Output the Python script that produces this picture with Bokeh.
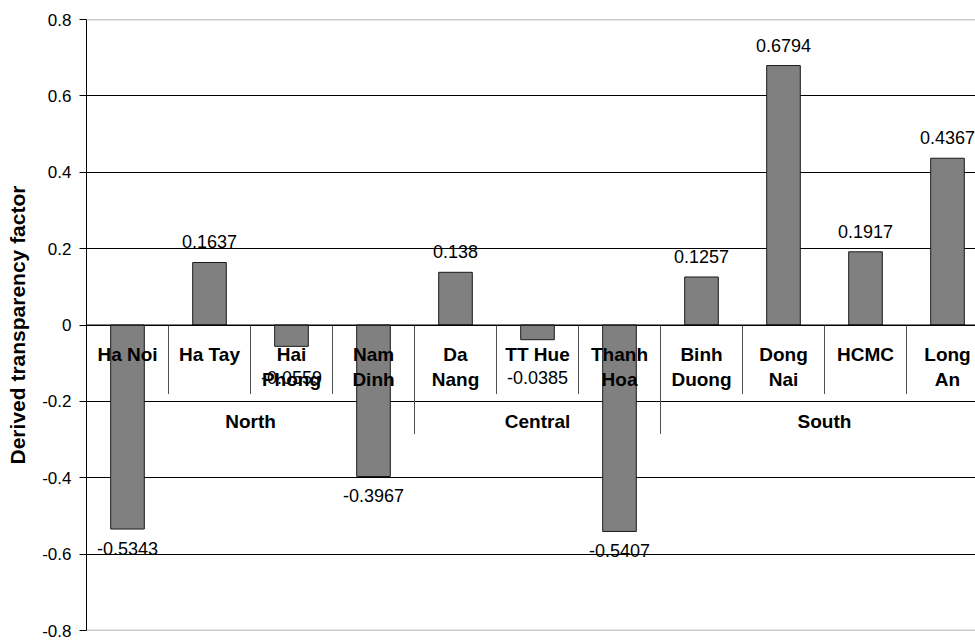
from bokeh.plotting import figure
from bokeh.models import ColumnDataSource, Range1d, FixedTicker, Span, CustomJSTickFormatter
from bokeh.core.properties import value
from bokeh.embed import file_html
from bokeh.resources import INLINE

# Provinces (a "\n" marks where the axis label wraps) and their region
categories = ["Ha Noi", "Ha Tay", "Hai\nPhong", "Nam\nDinh",
              "Da\nNang", "TT Hue", "Thanh\nHoa",
              "Binh\nDuong", "Dong\nNai", "HCMC", "Long\nAn"]
regions = ["North", "North", "North", "North",
           "Central", "Central", "Central",
           "South", "South", "South", "South"]
factor = [-0.5343, 0.1637, -0.0559, -0.3967,
          0.138, -0.0385, -0.5407,
          0.1257, 0.6794, 0.1917, 0.4367]
y_ticks = [-0.8, -0.6, -0.4, -0.2, 0, 0.2, 0.4, 0.6, 0.8]

FONT = "Liberation Sans"
W, H = 975, 641
LEFT, TOP, BOTTOM = 86, 19, 11
CAT_PX = 82.0                      # width of one category slot in pixels
frame_w = W - LEFT
frame_h = H - TOP - BOTTOM
y_lo, y_hi = -0.8, 0.8
ppu = frame_h / (y_hi - y_lo)      # pixels per data unit on y

p = figure(width=W, height=H, output_backend="svg", toolbar_location=None,
           x_range=Range1d(0, frame_w / CAT_PX), y_range=Range1d(y_lo, y_hi),
           min_border_left=LEFT, min_border_right=0,
           min_border_top=TOP, min_border_bottom=BOTTOM)
p.outline_line_color = None
p.background_fill_color = "white"
p.border_fill_color = "white"
p.xaxis.visible = False
p.xgrid.visible = False

# value axis
yax = p.yaxis[0]
yax.ticker = FixedTicker(ticks=y_ticks)
yax.formatter = CustomJSTickFormatter(code="return String(Math.round(tick * 10) / 10);")
yax.axis_label = "Derived transparency factor"
yax.axis_label_text_font = FONT
yax.axis_label_text_font_style = "bold"
yax.axis_label_text_font_size = "21px"
yax.axis_label_text_color = "black"
yax.axis_label_standoff = 10
yax.major_label_text_font = FONT
yax.major_label_text_font_size = "17px"
yax.major_label_text_color = "black"
yax.major_label_standoff = 8
yax.major_tick_out = 7
yax.major_tick_in = 0
yax.minor_tick_out = 0
yax.minor_tick_in = 0
yax.axis_line_color = "black"
yax.major_tick_line_color = "black"

p.ygrid.ticker = FixedTicker(ticks=[t for t in y_ticks if y_lo < t < y_hi])
p.ygrid.grid_line_color = "black"
p.ygrid.level = "underlay"

for edge in (y_lo, y_hi):
    p.add_layout(Span(location=edge, dimension="width",
                      line_color="#9a9a9a", line_width=1.5))

n = len(categories)
xs = [i + 0.5 for i in range(n)]
src = ColumnDataSource(dict(x=xs, top=factor))
p.vbar(x="x", top="top", bottom=0, width=0.41, source=src,
       fill_color="#808080", line_color="#1a1a1a", line_width=1)

# category axis drawn along zero
p.add_layout(Span(location=0, dimension="width", line_color="black", line_width=1))

tick_len = 69 / ppu
group_len = 109 / ppu
bounds = list(range(1, n + 1))
group_edges = [i for i in range(1, n) if regions[i] != regions[i - 1]] + [n]
inner = [b for b in bounds if b not in group_edges]
p.segment(x0=inner, y0=[0] * len(inner), x1=inner, y1=[-tick_len] * len(inner),
          line_color="#505050", line_width=1)
p.segment(x0=group_edges, y0=[0] * len(group_edges), x1=group_edges,
          y1=[-group_len] * len(group_edges), line_color="#505050", line_width=1)

# category labels (one or two lines)
line1 = [c.split("\n")[0] for c in categories]
line2 = [c.split("\n")[1] if "\n" in c else "" for c in categories]
lab_src = ColumnDataSource(dict(x=xs, y=[0] * n, l1=line1, l2=line2))
for col, off in (("l1", 29), ("l2", 54)):
    p.text(x="x", y="y", text=col, source=lab_src, y_offset=off,
           text_align="center", text_baseline="middle",
           text_font=value(FONT), text_font_style="bold", text_font_size="19px",
           text_color="black")

# region labels centred under their provinces
names, centers = [], []
for r in dict.fromkeys(regions):
    idx = [i for i, g in enumerate(regions) if g == r]
    names.append(r)
    centers.append((idx[0] + idx[-1] + 1) / 2)
p.text(x=centers, y=[0] * len(names), text=names, y_offset=96,
       text_align="center", text_baseline="middle",
       text_font=value(FONT), text_font_style="bold", text_font_size="19px",
       text_color="black")

# value labels: above positive bars, below negative ones
offs = []
for v in factor:
    if v >= 0:
        offs.append(-20.5)
    else:
        offs.append(max(19.0, 52.0 - abs(v) * ppu))
val_src = ColumnDataSource(dict(x=xs, y=factor, t=[f"{v:g}" for v in factor], off=offs))
p.text(x="x", y="y", text="t", y_offset="off", source=val_src,
       text_align="center", text_baseline="middle",
       text_font=value(FONT), text_font_size="18px", text_color="black")

open("out.html", "w").write(file_html(p, INLINE))
